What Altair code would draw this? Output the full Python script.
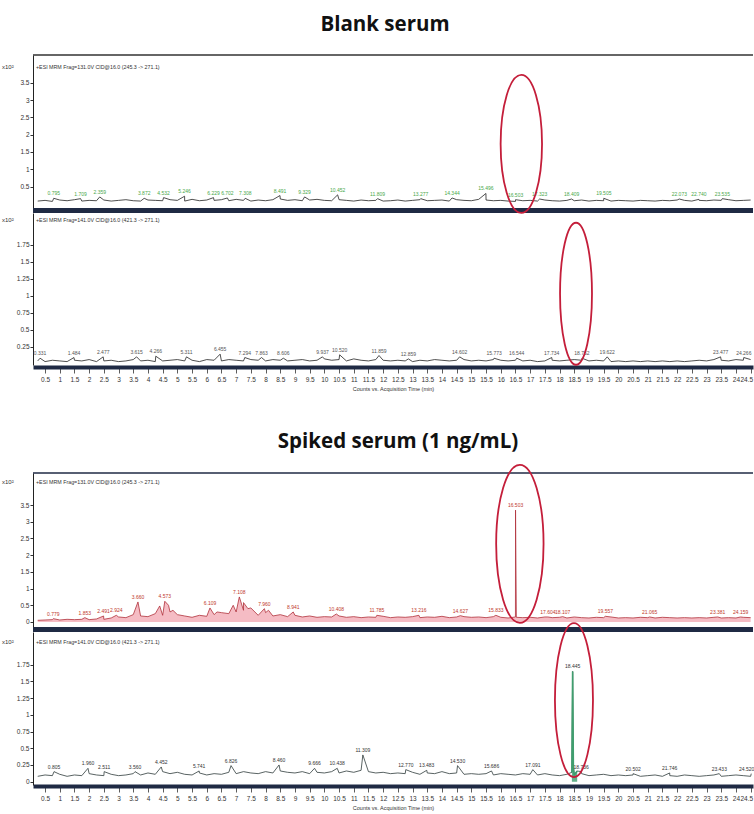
import altair as alt
import pandas as pd

# ---------------------------------------------------------------------------
# Chromatogram readings (intensity in counts x10^2, time in minutes)
# Baseline readings are taken every STEP minutes starting at STEP.
# ---------------------------------------------------------------------------
STEP = 0.25

# Blank serum, transition 245.3 -> 271.1
blank_a_base = [
    0.08, 0.10, 0.07, 0.11, 0.09, 0.12, 0.08, 0.10, 0.09, 0.11,
    0.08, 0.10, 0.12, 0.09, 0.08, 0.11, 0.10, 0.09, 0.12, 0.10,
    0.08, 0.13, 0.09, 0.11, 0.10, 0.12, 0.09, 0.13, 0.10, 0.08,
    0.11, 0.09, 0.12, 0.14, 0.10, 0.12, 0.09, 0.11, 0.13, 0.10,
    0.09, 0.12, 0.10, 0.08, 0.11, 0.09, 0.10, 0.08, 0.09, 0.11,
    0.08, 0.10, 0.12, 0.09, 0.10, 0.11, 0.08, 0.12, 0.10, 0.09,
    0.13, 0.11, 0.09, 0.10, 0.08, 0.07, 0.09, 0.10, 0.08, 0.11,
    0.09, 0.08, 0.10, 0.09, 0.11, 0.08, 0.10, 0.09, 0.08, 0.10,
    0.09, 0.08, 0.10, 0.09, 0.08, 0.10, 0.09, 0.11, 0.10, 0.08,
    0.10, 0.09, 0.11, 0.10, 0.12, 0.09, 0.10, 0.11,
]
blank_a_peak_time = [0.795, 1.709, 2.359, 3.872, 4.532, 5.246, 6.229, 6.702, 7.308,
                     8.491, 9.329, 10.452, 11.809, 13.277, 14.344, 15.496, 16.503,
                     17.323, 18.409, 19.505, 22.073, 22.740, 23.535]
blank_a_peak_height = [0.16, 0.15, 0.20, 0.16, 0.18, 0.22, 0.18, 0.17, 0.16,
                       0.24, 0.20, 0.26, 0.15, 0.15, 0.17, 0.30, 0.12,
                       0.14, 0.14, 0.16, 0.14, 0.13, 0.15]

# Blank serum, transition 421.3 -> 271.1
blank_b_base = [
    0.04, 0.03, 0.05, 0.04, 0.03, 0.05, 0.04, 0.06, 0.03, 0.04,
    0.05, 0.03, 0.04, 0.06, 0.04, 0.05, 0.03, 0.04, 0.05, 0.06,
    0.04, 0.05, 0.03, 0.06, 0.05, 0.04, 0.06, 0.05, 0.04, 0.06,
    0.05, 0.04, 0.06, 0.05, 0.04, 0.05, 0.06, 0.04, 0.05, 0.07,
    0.05, 0.06, 0.04, 0.07, 0.05, 0.04, 0.06, 0.05, 0.04, 0.05,
    0.04, 0.03, 0.05, 0.04, 0.06, 0.05, 0.04, 0.05, 0.06, 0.04,
    0.05, 0.04, 0.06, 0.05, 0.04, 0.05, 0.04, 0.05, 0.03, 0.04,
    0.05, 0.04, 0.05, 0.06, 0.05, 0.04, 0.05, 0.04, 0.03, 0.04,
    0.03, 0.04, 0.03, 0.04, 0.03, 0.04, 0.03, 0.04, 0.03, 0.04,
    0.05, 0.04, 0.06, 0.05, 0.04, 0.06, 0.05, 0.06,
]
blank_b_peak_time = [0.331, 1.484, 2.477, 3.615, 4.266, 5.311, 6.455, 7.294, 7.863,
                     8.606, 9.937, 10.520, 11.859, 12.859, 14.602, 15.773, 16.544,
                     17.734, 18.762, 19.622, 23.477, 24.266]
blank_b_peak_height = [0.08, 0.09, 0.10, 0.10, 0.11, 0.10, 0.14, 0.09, 0.09,
                       0.08, 0.10, 0.13, 0.12, 0.07, 0.10, 0.08, 0.08,
                       0.09, 0.08, 0.10, 0.10, 0.09]

# Spiked serum (1 ng/mL), transition 245.3 -> 271.1
spiked_a_base = [
    0.05, 0.06, 0.07, 0.06, 0.08, 0.07, 0.08, 0.07, 0.09, 0.08,
    0.12, 0.15, 0.13, 0.22, 0.18, 0.16, 0.25, 0.20, 0.30, 0.22,
    0.18, 0.14, 0.20, 0.17, 0.22, 0.28, 0.25, 0.30, 0.35, 0.42,
    0.20, 0.28, 0.18, 0.22, 0.16, 0.20, 0.15, 0.18, 0.14, 0.16,
    0.15, 0.18, 0.14, 0.16, 0.13, 0.15, 0.14, 0.17, 0.13, 0.15,
    0.14, 0.16, 0.13, 0.15, 0.14, 0.17, 0.13, 0.15, 0.16, 0.14,
    0.15, 0.13, 0.16, 0.14, 0.12, 0.15, 0.13, 0.14, 0.12, 0.15,
    0.13, 0.14, 0.12, 0.15, 0.13, 0.12, 0.14, 0.13, 0.15, 0.12,
    0.13, 0.12, 0.14, 0.13, 0.12, 0.14, 0.13, 0.12, 0.13, 0.12,
    0.13, 0.12, 0.14, 0.12, 0.13, 0.12, 0.14, 0.13,
]
spiked_a_peak_time = [0.779, 1.853, 2.491, 2.924, 3.660, 4.573, 6.109, 7.108, 7.960,
                      8.941, 10.408, 11.785, 13.216, 14.627, 15.833, 16.503, 17.604,
                      18.107, 19.557, 21.065, 23.381, 24.159]
spiked_a_peak_height = [0.10, 0.13, 0.18, 0.20, 0.60, 0.62, 0.42, 0.75, 0.40,
                        0.30, 0.24, 0.20, 0.20, 0.19, 0.20, 3.35, 0.15,
                        0.16, 0.17, 0.15, 0.15, 0.15]
spiked_a_extra_time = [4.40, 4.70, 4.85, 6.35, 6.90, 7.25, 7.40, 8.10, 16.53]
spiked_a_extra_height = [0.48, 0.50, 0.35, 0.30, 0.50, 0.58, 0.40, 0.35, 0.14]

# Spiked serum (1 ng/mL), transition 421.3 -> 271.1
spiked_b_base = [
    0.08, 0.10, 0.09, 0.11, 0.08, 0.10, 0.09, 0.12, 0.10, 0.09,
    0.11, 0.09, 0.10, 0.12, 0.10, 0.13, 0.11, 0.15, 0.12, 0.14,
    0.11, 0.10, 0.13, 0.10, 0.12, 0.11, 0.14, 0.12, 0.15, 0.13,
    0.12, 0.15, 0.13, 0.16, 0.14, 0.13, 0.15, 0.12, 0.14, 0.13,
    0.15, 0.13, 0.16, 0.14, 0.17, 0.15, 0.13, 0.14, 0.12, 0.13,
    0.12, 0.14, 0.11, 0.13, 0.12, 0.15, 0.12, 0.13, 0.11, 0.12,
    0.11, 0.12, 0.10, 0.12, 0.11, 0.10, 0.12, 0.11, 0.10, 0.12,
    0.10, 0.09, 0.11, 0.10, 0.12, 0.09, 0.10, 0.11, 0.09, 0.10,
    0.09, 0.10, 0.08, 0.09, 0.10, 0.08, 0.09, 0.08, 0.10, 0.09,
    0.08, 0.09, 0.10, 0.08, 0.09, 0.10, 0.09, 0.08,
]
spiked_b_peak_time = [0.805, 1.960, 2.511, 3.560, 4.452, 5.741, 6.826, 8.460, 9.666,
                      10.438, 11.309, 12.770, 13.483, 14.530, 15.686, 17.091, 18.445,
                      18.736, 20.502, 21.746, 23.433, 24.520]
spiked_b_peak_height = [0.15, 0.20, 0.15, 0.15, 0.22, 0.16, 0.24, 0.25, 0.20,
                        0.20, 0.40, 0.18, 0.17, 0.24, 0.16, 0.18, 1.65,
                        0.15, 0.12, 0.13, 0.12, 0.12]
spiked_b_extra_time = [18.42, 18.47, 18.60]
spiked_b_extra_height = [0.14, 0.22, 0.16]

# Axis tick values
time_ticks = [0.5 * i for i in range(1, 50)]
ticks_a_blank = [0.5, 1, 1.5, 2, 2.5, 3, 3.5]
ticks_b_blank = [0.25, 0.5, 0.75, 1, 1.25, 1.5, 1.75]
ticks_a_spiked = [0, 0.5, 1, 1.5, 2, 2.5, 3, 3.5]
ticks_b_spiked = [0, 0.25, 0.5, 0.75, 1, 1.25, 1.5, 1.75]

# Highlight ellipses: (time, intensity) of each centre
ellipse_time = [16.70, 18.56, 16.65, 18.49]
ellipse_level = [1.73, 1.03, 2.34, 1.22]

HEADER_A = "+ESI MRM Frag=131.0V CID@16.0 (245.3 -> 271.1)"
HEADER_B = "+ESI MRM Frag=141.0V CID@16.0 (421.3 -> 271.1)"

# ---------------------------------------------------------------------------
W, H = 720, 786
X_DOMAIN = [0.09, 24.58]
EDGE_TIME = 24.3          # peak labels past this time are right-aligned
NARROW = "Liberation Sans Narrow, Liberation Sans, sans-serif"
NAVY = "#1f2a44"
RED = "#c41e3a"
one_row = pd.DataFrame({"k": [0]})


def ellipse_path(a):
    k = 0.5523
    return (f"M0,-1 C{k*a:.4f},-1 {a:.4f},{-k:.4f} {a:.4f},0 "
            f"C{a:.4f},{k:.4f} {k*a:.4f},1 0,1 "
            f"C{-k*a:.4f},1 {-a:.4f},{k:.4f} {-a:.4f},0 "
            f"C{-a:.4f},{-k:.4f} {-k*a:.4f},-1 0,-1 Z")


def time_axis(offset):
    return alt.Axis(orient="bottom", offset=offset, values=time_ticks, format=".1~f",
                    title="Counts vs. Acquisition Time (min)", grid=False,
                    labelFont=NARROW, labelFontSize=6.5, labelColor="#333",
                    labelOverlap=False, labelFlush=4, labelFlushOffset=2,
                    labelPadding=3,
                    tickSize=6, tickColor="#333", tickWidth=0.8,
                    domainColor=NAVY, domainWidth=4,
                    titleFont=NARROW, titleFontSize=5.5, titleFontWeight="normal",
                    titleColor="#333", titlePadding=4)


def build_panel(base, peak_t, peak_v, extra_t, extra_v, y_dom, y_rng, y_ticks,
                label_color, line_color, x_axis, ellipse, fill=None,
                highlight=None):
    grid_t = [round(STEP * (i + 1), 2) for i in range(len(base))]
    trace = pd.DataFrame({"t": grid_t + list(peak_t) + list(extra_t),
                          "v": list(base) + list(peak_v) + list(extra_v)})
    trace = trace.sort_values("t").reset_index(drop=True)
    peaks = pd.DataFrame({"t": peak_t, "v": peak_v,
                          "label": [f"{t:.3f}" for t in peak_t]})

    xs = alt.Scale(domain=X_DOMAIN, nice=False, zero=False)
    ys = alt.Scale(domain=y_dom, range=y_rng, nice=False, zero=False)
    y_axis = alt.Axis(orient="left", values=y_ticks, format=".2~f", title=None,
                      grid=False, labelFont=NARROW, labelFontSize=6.5,
                      labelColor="#333", labelPadding=1, tickSize=3,
                      tickColor="#333", domainColor="#222", domainWidth=1)
    X = alt.X("t:Q", scale=xs, axis=x_axis)
    Y = alt.Y("v:Q", scale=ys, axis=y_axis)

    layers = []
    if fill is not None:
        layers.append(alt.Chart(trace).mark_area(color=fill, opacity=0.75)
                      .encode(x=X, y=Y, y2=alt.datum(0)))
    layers.append(alt.Chart(trace).mark_line(color=line_color, strokeWidth=0.8)
                  .encode(x=X, y=Y))
    if highlight is not None:
        lo, hi, col = highlight
        part = trace[(trace.t >= lo) & (trace.t <= hi)]
        layers.append(alt.Chart(part).mark_area(color=col, opacity=0.8)
                      .encode(x=X, y=Y, y2=alt.datum(0)))
        layers.append(alt.Chart(part).mark_line(color=col, strokeWidth=1.6)
                      .encode(x=X, y=Y))
    inner = peaks[peaks.t <= EDGE_TIME]
    edge = peaks[peaks.t > EDGE_TIME]
    layers.append(alt.Chart(inner).mark_text(font=NARROW, fontSize=5,
                                             color=label_color, dy=-3,
                                             baseline="alphabetic")
                  .encode(x=X, y=Y, text="label:N"))
    if len(edge):
        layers.append(alt.Chart(edge).mark_text(font=NARROW, fontSize=5,
                                                color=label_color, dy=-3, dx=3,
                                                align="right",
                                                baseline="alphabetic")
                      .encode(x=X, y=Y, text="label:N"))
    et, ev, half_h, aspect = ellipse
    layers.append(alt.Chart(pd.DataFrame({"t": [et], "v": [ev]}))
                  .mark_point(shape=ellipse_path(aspect), size=(2 * half_h) ** 2,
                              filled=False, color=RED, strokeWidth=1.8, opacity=1)
                  .encode(x=X, y=Y))
    return alt.layer(*layers)


p1 = build_panel(blank_a_base, blank_a_peak_time, blank_a_peak_height, [], [],
                 [-0.12, 4.3], [208, 55], ticks_a_blank, "#4aa84a", "#222",
                 None, (ellipse_time[0], ellipse_level[0], 69, 0.30))
p2 = build_panel(blank_b_base, blank_b_peak_time, blank_b_peak_height, [], [],
                 [-0.02, 2.22], [365, 213], ticks_b_blank, "#555", "#222",
                 time_axis(367 - H), (ellipse_time[1], ellipse_level[1], 71, 0.225))
p3 = build_panel(spiked_a_base, spiked_a_peak_time, spiked_a_peak_height,
                 spiked_a_extra_time, spiked_a_extra_height,
                 [-0.15, 4.46], [627, 473], ticks_a_spiked, "#c0392b", "#b0303a",
                 None, (ellipse_time[2], ellipse_level[2], 79, 0.30),
                 fill="#f2a6b0")
p4 = build_panel(spiked_b_base, spiked_b_peak_time, spiked_b_peak_height,
                 spiked_b_extra_time, spiked_b_extra_height,
                 [-0.05, 2.24], [785, 632], ticks_b_spiked, "#333", "#2f3b3b",
                 time_axis(0), (ellipse_time[3], ellipse_level[3], 77, 0.247),
                 highlight=(18.40, 18.62, "#3f9e6e"))


def hline(y, width, color):
    return alt.Chart(one_row).mark_rule(color=color, strokeWidth=width).encode(
        x=alt.value(0), x2=alt.value(W), y=alt.value(y))


def label(text, x, y, size, color="#333", bold=False, font=NARROW, align="left"):
    return alt.Chart(one_row).mark_text(
        text=text, font=font, fontSize=size, color=color, align=align,
        baseline="alphabetic", fontWeight="bold" if bold else "normal"
    ).encode(x=alt.value(x), y=alt.value(y))


frame = [
    hline(55, 1.5, "#333"),
    hline(210.5, 5, NAVY),
    hline(473, 1.5, NAVY),
    hline(629.5, 5, NAVY),
]
texts = [
    label("Blank serum", 352, 31, 20.5, "#111", True, "Open Sans", "center"),
    label("Spiked serum (1 ng/mL)", 365, 448, 20.5, "#111", True, "Open Sans", "center"),
    label("x10²", -31, 69, 6), label(HEADER_A, 3, 69, 5.3),
    label("x10²", -31, 222, 6), label(HEADER_B, 3, 222, 5.3),
    label("x10²", -31, 484, 6), label(HEADER_A, 3, 484, 5.3),
    label("x10²", -31, 644, 6), label(HEADER_B, 3, 644, 5.3),
]

chart = (
    alt.layer(*frame, p1, p2, p3, p4, *texts)
    .resolve_scale(x="independent", y="independent")
    .resolve_axis(x="independent", y="independent")
    .properties(width=W, height=H,
                padding={"left": 33, "top": 0, "right": 1, "bottom": 28},
                autosize=alt.AutoSizeParams(type="none"),
                background="white")
    .configure_view(strokeWidth=0)
)

chart.save("out.html", embed_options={"renderer": "svg", "actions": False})
